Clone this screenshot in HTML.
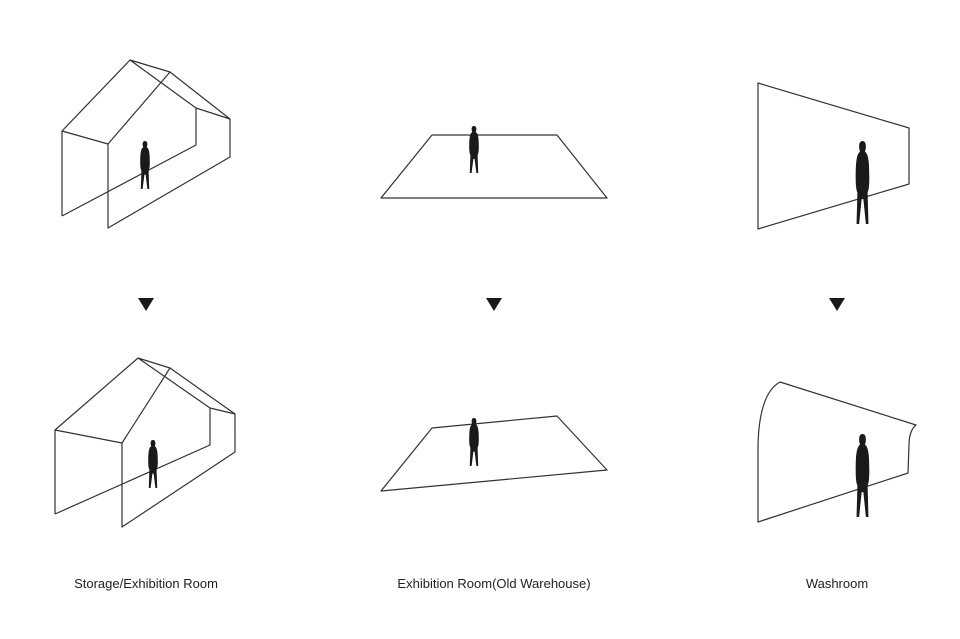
<!DOCTYPE html>
<html><head><meta charset="utf-8"><style>
html,body{margin:0;padding:0;background:#fff;}
svg{display:block;}
text{font-family:"Liberation Sans",sans-serif;font-size:13px;fill:#222;}
</style></head><body>
<svg width="960" height="639" viewBox="0 0 960 639">
<defs>
<path id="p" d="M10,0 C13,0 14,3 14,7 C14,10 13,12 13,13 C17,16 18,25 18,45 C18,55 17,60 16,62 L17,100 L14,100 L11,70 L9,70 L6,100 L3,100 L4,62 C3,60 2,55 2,45 C2,25 3,16 7,13 C7,12 6,10 6,7 C6,3 7,0 10,0 Z" fill="#1a1a1a"/>
</defs>
<g fill="none" stroke="#333" stroke-width="1.2" stroke-linejoin="round">
<!-- top house -->
<path d="M62,216 L62,131 L130,60 L170,72 L108,144 L62,131 M108,144 L108,228 L230,157 L230,119 L170,72 M130,60 L196,108 L196,145 L62,216 M196,108 L230,119"/>
<!-- bottom house -->
<path d="M55,514 L55,430 L138,358 L170,368 L122,443 L55,430 M122,443 L122,527 L235,452 L235,414 L170,368 M138,358 L210,408 L210,445 L55,514 M210,408 L235,414"/>
<!-- middle -->
<path d="M432,135 L557,135 L607,198 L381,198 Z"/>
<path d="M432,428 L557,416 L607,470 L381,491 Z"/>
<!-- washroom -->
<path d="M758,83 L909,128 L909,184 L758,229 Z"/>
<path d="M780,382 L916,425 C912,428 909,435 909,445 L908,473 L758,522 L758,450 C758,415 765,390 780,382 Z"/>
</g>
<use href="#p" transform="translate(139,141) scale(0.6,0.48)"/>
<use href="#p" transform="translate(147,440) scale(0.6,0.48)"/>
<use href="#p" transform="translate(468,126) scale(0.6,0.47)"/>
<use href="#p" transform="translate(468,418) scale(0.6,0.48)"/>
<use href="#p" transform="translate(854,141) scale(0.85,0.83)"/>
<use href="#p" transform="translate(854,434) scale(0.85,0.83)"/>
<g fill="#1a1a1a">
<polygon points="138,298 154,298 146,311"/>
<polygon points="486,298 502,298 494,311"/>
<polygon points="829,298 845,298 837,311"/>
</g>
<text x="146" y="588" text-anchor="middle">Storage/Exhibition Room</text>
<text x="494" y="588" text-anchor="middle">Exhibition Room(Old Warehouse)</text>
<text x="837" y="588" text-anchor="middle">Washroom</text>
</svg>
</body></html>
